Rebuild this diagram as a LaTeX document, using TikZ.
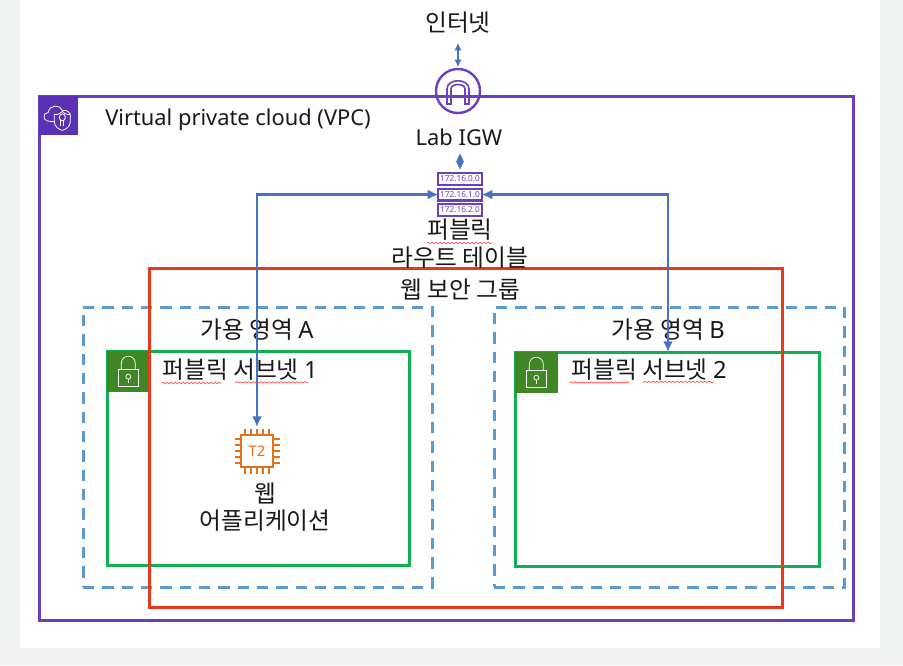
\documentclass[tikz,border=0pt]{standalone}
\usepackage{fontspec}
\setmainfont{Noto Sans}
\newfontfamily\kr{Noto Sans CJK KR}
\usetikzlibrary{arrows.meta,decorations.pathmorphing}
\definecolor{vpc}{HTML}{6A3FC0}
\definecolor{vpcfill}{HTML}{5A30B5}
\definecolor{sgred}{HTML}{E8391A}
\definecolor{azblue}{HTML}{5B9BD5}
\definecolor{subgreen}{HTML}{0DB14F}
\definecolor{lockgreen}{HTML}{3F8624}
\definecolor{conn}{HTML}{4472C4}
\definecolor{chip}{HTML}{E8701A}
\definecolor{pagegray}{HTML}{F1F3F2}
\tikzset{
  lbl/.style={font=\fontsize{17.8}{20.5}\selectfont\kr,text=black!90,inner sep=0pt,align=center},
  latinlbl/.style={font=\fontsize{16.4}{20}\selectfont,text=black!90,inner sep=0pt},
  small/.style={font=\fontsize{6.2}{7}\selectfont,text=vpc,inner sep=0pt},
  rowbox/.style={draw=vpc,line width=1.7pt,fill=white,minimum width=32.5pt,minimum height=8.8pt,inner sep=0pt,outer sep=0pt},
  conarrow/.style={draw=conn,line width=2.2pt,{Latex[length=8pt,width=7.5pt]}-{Latex[length=8pt,width=7.5pt]}},
  squig/.style={draw=red!75,line width=0.5pt,decorate,decoration={snake,amplitude=0.5pt,segment length=3pt}},
  boxframe/.style={inner sep=0pt,outer sep=0pt,anchor=north west},
  azframe/.style={boxframe,draw=azblue,line width=2.25pt,dash pattern=on 8.5pt off 6pt},
  subframe/.style={boxframe,draw=subgreen,line width=2.25pt}
}
\begin{document}
\begin{tikzpicture}[x=0.75pt,y=-0.75pt]
\useasboundingbox (0,0) rectangle (903,665);
\fill[pagegray] (0,0) rectangle (903,665);
\fill[white] (20,0) rectangle (880,648);

% VPC
\node[boxframe,draw=vpc,line width=2.25pt,minimum width=610.5pt,minimum height=393pt] (vpcbox) at (39,96) {};
\node[boxframe,fill=vpcfill,minimum width=29pt,minimum height=29pt] (vpcicon) at (39,96) {};
\begin{scope}[shift={(vpcicon.center)},x=0.75pt,y=-0.75pt,draw=white,line width=0.6pt]
  \draw (-3,6) .. controls (-18,8) and (-16,-3) .. (-10,-3) .. controls (-9,-11) and (2,-11) .. (4,-5) .. controls (9,-6) and (13,-2) .. (12,2);
  \draw[fill=vpcfill] (-4,-1) .. controls (0,0) and (3,-3) .. (4,-4) .. controls (5,-3) and (8,0) .. (12,-1) -- (12,6) .. controls (12,11) and (8,14) .. (4,15) .. controls (0,14) and (-4,11) .. (-4,6) -- cycle;
  \draw (4,2) circle[x radius=3,y radius=3.5];
  \draw (2.5,5) -- (2.5,11) (5.5,5) -- (5.5,11);
\end{scope}
\node[latinlbl,anchor=west] (vpclabel) at (105,120) {Virtual private cloud (VPC)};

% Availability zones
\node[azframe,minimum width=261.75pt,minimum height=210pt] (aza) at (83,307) {};
\node[azframe,minimum width=262.5pt,minimum height=210pt] (azb) at (494,307) {};

% Subnets
\node[subframe,minimum width=226.5pt,minimum height=160.5pt] (suba) at (107,351) {};
\node[subframe,minimum width=228pt,minimum height=160.5pt] (subb) at (515,352) {};
\foreach \n/\px/\py in {locka/107/351,lockb/515/352}{
  \node[boxframe,fill=lockgreen,minimum width=32pt,minimum height=31pt] (\n) at (\px,\py) {};
  \begin{scope}[shift={(\n.center)},x=0.75pt,y=-0.75pt,draw=white,line width=0.55pt]
    \draw (-10,-2) rectangle (10,15);
    \draw (-7,-2) -- (-7,-8) .. controls (-7,-18) and (7,-18) .. (7,-8) -- (7,-2);
    \draw (0,5) circle[radius=2.5];
    \draw (0,7.5) -- (0,11);
  \end{scope}
}

% Security group
\node[boxframe,draw=sgred,line width=2.25pt,minimum width=474.75pt,minimum height=254.25pt] (sg) at (149,268) {};
\node[lbl] (sglabel) at (460,289.5) {웹 보안 그룹};

% labels
\node[lbl] (azalabel) at (257,330) {가용 영역 {\rmfamily A}};
\node[lbl] (azblabel) at (668,330) {가용 영역 {\rmfamily B}};
\node[lbl] (subalabel) at (240,370) {퍼블릭 서브넷 {\rmfamily 1}};
\node[lbl] (subblabel) at (649,370) {퍼블릭 서브넷 {\rmfamily 2}};

% IGW
\node[draw=vpc,line width=1.8pt,fill=none,circle,minimum size=33pt,inner sep=0pt] (igw) at (458,91) {};
\draw[vpc,line width=1.2pt] (447,104) -- (447,89) .. controls (447,78) and (469,78) .. (469,89) -- (469,104) -- (465,104) -- (465,89) .. controls (465,83) and (451,83) .. (451,89) -- (451,104) -- cycle;
\node[lbl] (inet) at (458,23) {인터넷};
\node[latinlbl] (igwlabel) at (459,137) {Lab IGW};
\draw[conn,line width=1.4pt,{Latex[length=5.5pt,width=5.5pt]}-{Latex[length=5.5pt,width=5.5pt]}] (458,43) -- (458,67);

% Route table
\node[rowbox] (rt0) at (460,179) {};
\node[rowbox] (rt1) at (460,194.5) {};
\node[rowbox] (rt2) at (460,210) {};
\node[small] at (rt0) {172.16.0.0};
\node[small] at (rt1) {172.16.1.0};
\node[small] at (rt2) {172.16.2.0};
\node[lbl] (rtlabel) at (460,243.5) {퍼블릭\\라우트 테이블};
\path[fill=conn,draw=conn,line width=0.3pt] (460,154) -- (463.5,161.5) -- (460,169) -- (456.5,161.5) -- cycle;

% Chip
\node[draw=chip,line width=1.7pt,minimum size=24.5pt,inner sep=0pt,font=\fontsize{11}{12}\selectfont\bfseries,text=chip] (chipbox) at (257,451) {T2};
\foreach \d in {-12,-6,0,6,12}{
  \draw[chip,line width=1.4pt] (257+\d,435) -- (257+\d,428.5);
  \draw[chip,line width=1.4pt] (257+\d,467) -- (257+\d,473.5);
  \draw[chip,line width=1.4pt] (241,451+\d) -- (234.5,451+\d);
  \draw[chip,line width=1.4pt] (273,451+\d) -- (279.5,451+\d);
}
\node[lbl] (chiplabel) at (265,507) {웹\\어플리케이션};

% connectors
\coordinate (bendL) at (257,194.5);
\coordinate (bendR) at (668,194.5);
\coordinate (endB) at (668,352);
\draw[conarrow] (rt1.west) -- (bendL) -- (chipbox.north |- 0,427);
\draw[conarrow] (rt1.east) -- (bendR) -- (endB);

% squiggles
\draw[squig] (427,243) -- (492,243);
\draw[squig] (162,383) -- (220,383) (235,383) -- (308,383);
\draw[squig] (570,382.5) -- (628,382.5) (643,382.5) -- (713,382.5);
\end{tikzpicture}
\end{document}
